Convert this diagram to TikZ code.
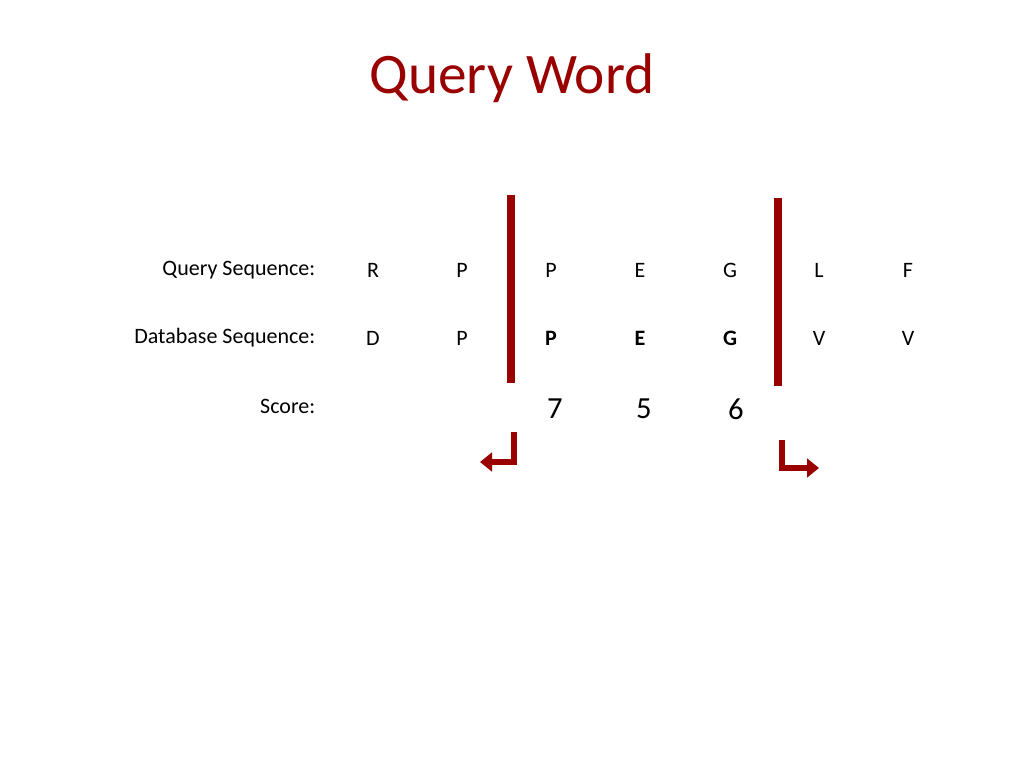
\documentclass[tikz,border=0pt]{standalone}
\usepackage{fontspec}
\setmainfont{Carlito}
\usetikzlibrary{arrows.meta}
\definecolor{darkred}{HTML}{990000}
\tikzstyle{lbl} = [anchor=east, font=\fontsize{16.5}{18}\selectfont]
\tikzstyle{res} = [font=\fontsize{16.5}{18}\selectfont]
\tikzstyle{hit} = [font=\fontsize{16.5}{18}\selectfont\bfseries]
\tikzstyle{num} = [font=\fontsize{23}{26}\selectfont]
\tikzstyle{bar} = [draw=darkred, line width=6pt]
\tikzstyle{turn} = [draw=darkred, line width=4.5pt, -{Triangle[length=9pt,width=14pt]}]
\begin{document}
\begin{tikzpicture}[x=0.75pt, y=-0.75pt]
   \useasboundingbox (0,0) rectangle (1024,768);
   % Title
    \node [text=darkred, font=\fontsize{43}{48}\selectfont] (title) at (512,78) {Query Word};
   % Row labels
    \node [lbl] (qlab) at (320,270) {Query Sequence:};
    \node [lbl] (dlab) at (320,338) {Database Sequence:};
    \node [lbl] (slab) at (320,406) {Score:};
   % Residues
    \foreach \x/\q/\d [count=\i] in {373/R/D, 462/P/P, 819/L/V, 908/F/V} {
      \node [res] (q\i) at (\x,270) {\q};
      \node [res] (d\i) at (\x,338) {\d};
    }
    \foreach \x/\q [count=\i] in {551/P, 640/E, 730/G} {
      \node [res] (wq\i) at (\x,270) {\q};
      \node [hit] (wd\i) at (\x,338) {\q};
    }
   % Scores
    \node [num] (s1) at (555,409) {7};
    \node [num] (s2) at (644,409) {5};
    \node [num] (s3) at (736,409) {6};
   % Word boundaries
    \coordinate (lt) at (511,195); \coordinate (lb) at (511,383);
    \coordinate (rt) at (778,198); \coordinate (rb) at (778,386);
    \path [bar] (lt) -- (lb);
    \path [bar] (rt) -- (rb);
   % Extension arrows
    \coordinate (la) at (514,432); \coordinate (lc) at (514,462); \coordinate (le) at (480,462);
    \coordinate (ra) at (782,440); \coordinate (rc) at (782,468); \coordinate (re) at (819,468);
    \path [turn] (la) -- (lc) -- (le);
    \path [turn] (ra) -- (rc) -- (re);
\end{tikzpicture}
\end{document}
